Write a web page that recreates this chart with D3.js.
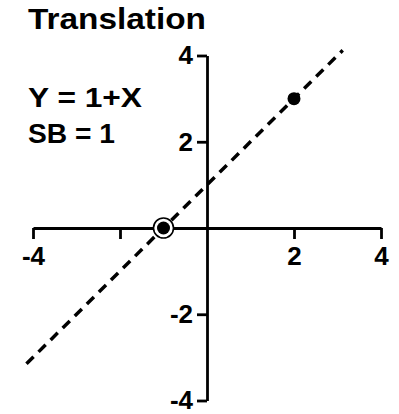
<!DOCTYPE html>
<html>
<head>
<meta charset="utf-8">
<style>
  body { margin: 0; background: #fff; }
  svg text { font-family: "Liberation Sans", Arial, sans-serif; font-weight: bold; fill: #000; }
</style>
</head>
<body>
<svg width="399" height="414"></svg>
<script src="https://d3js.org/d3.v7.min.js"></script>
<script>

var title = "Translation";
var equation = ["Y = 1+X", "SB = 1"];

// line Y = 1 + X, drawn over this x range
var lineIntercept = 1, lineSlope = 1;
var lineXRange = [-4.15, 3.12];

// points
var filledPoints = [{x: 2, y: 3}, {x: -1, y: 0}];
var ringedPoints = [{x: -1, y: 0}];

var xTickValues = [-4, -2, 2, 4],
    xTickLabels = ["-4", "", "2", "4"];
var yTickValues = [4, 2, -2, -4],
    yTickLabels = ["4", "2", "-2", "-4"];

var svg = d3.select("svg");

var x = d3.scaleLinear().domain([-4, 4]).range([33, 381]);
var y = d3.scaleLinear().domain([-4, 4]).range([400.5, 55.5]);

svg.append("text")
    .attr("x", 28)
    .attr("y", 29)
    .attr("font-size", 29)
    .attr("textLength", 178)
    .attr("lengthAdjust", "spacingAndGlyphs")
    .text(title);

svg.append("text")
    .attr("x", 28)
    .attr("y", 107)
    .attr("font-size", 28)
    .attr("textLength", 114)
    .attr("lengthAdjust", "spacingAndGlyphs")
    .text(equation[0]);

svg.append("text")
    .attr("x", 28)
    .attr("y", 143)
    .attr("font-size", 28)
    .attr("textLength", 87)
    .attr("lengthAdjust", "spacingAndGlyphs")
    .text(equation[1]);

var xAxis = svg.append("g")
    .attr("transform", "translate(0," + y(0) + ")")
    .call(d3.axisBottom(x)
      .tickValues(xTickValues)
      .tickSize(11)
      .tickSizeOuter(0)
      .tickPadding(8)
      .tickFormat(function(d, i) { return xTickLabels[i]; }));

var yAxis = svg.append("g")
    .attr("transform", "translate(" + x(0) + ",0)")
    .call(d3.axisLeft(y)
      .tickValues(yTickValues)
      .tickSize(10)
      .tickSizeOuter(0)
      .tickPadding(4)
      .tickFormat(function(d, i) { return yTickLabels[i]; }));

[xAxis, yAxis].forEach(function(a) {
  a.selectAll("path, line").attr("stroke", "#000").attr("stroke-width", 2.8);
  a.selectAll("text").attr("font-size", 26).attr("fill", "#000")
      .style("font-family", "'Liberation Sans', Arial, sans-serif").style("font-weight", "bold");
});

svg.append("line")
    .attr("x1", x(lineXRange[0]))
    .attr("y1", y(lineIntercept + lineSlope * lineXRange[0]))
    .attr("x2", x(lineXRange[1]))
    .attr("y2", y(lineIntercept + lineSlope * lineXRange[1]))
    .attr("stroke", "#000")
    .attr("stroke-width", 3.5)
    .attr("stroke-dasharray", "10,7");

svg.selectAll(".ring")
  .data(ringedPoints)
  .enter().append("circle")
    .attr("cx", function(d) { return x(d.x); })
    .attr("cy", function(d) { return y(d.y); })
    .attr("r", 10)
    .attr("fill", "#fff")
    .attr("stroke", "#000")
    .attr("stroke-width", 1.6);

svg.selectAll(".dot")
  .data(filledPoints)
  .enter().append("circle")
    .attr("cx", function(d) { return x(d.x); })
    .attr("cy", function(d) { return y(d.y); })
    .attr("r", 6.5)
    .attr("fill", "#000");

</script>
</body>
</html>
